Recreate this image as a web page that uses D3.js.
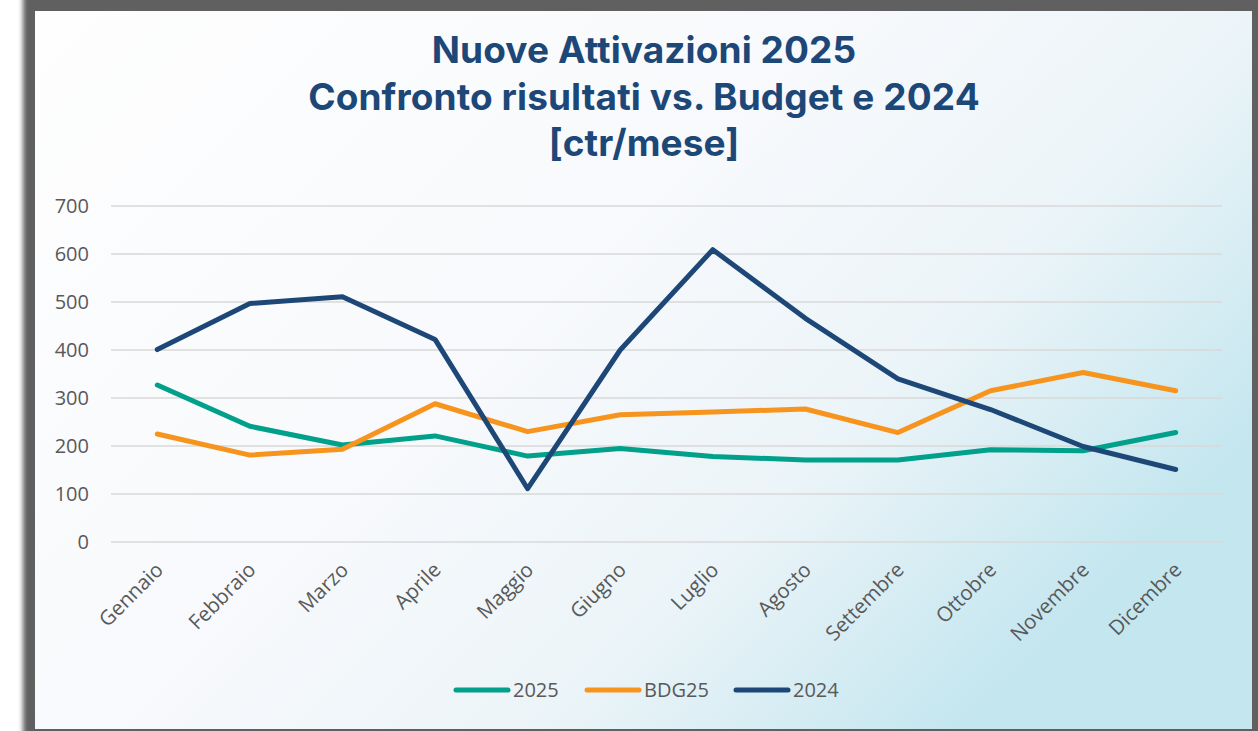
<!DOCTYPE html>
<html>
<head>
<meta charset="utf-8">
<script src="https://cdn.jsdelivr.net/npm/d3@7"></script>
<style>
  body { margin: 0; background: #fff; }
  svg { display: block; }
</style>
</head>
<body>
<svg id="chart" width="1258" height="731"></svg>
<script>
// data
var months = ['Gennaio','Febbraio','Marzo','Aprile','Maggio','Giugno','Luglio','Agosto','Settembre','Ottobre','Novembre','Dicembre'];
var act2025 = [327, 241, 202, 221, 179, 195, 178, 171, 171, 192, 190, 228];
var bdg25   = [225, 181, 193, 288, 230, 265, 271, 277, 228, 315, 353, 315];
var act2024 = [401, 497, 511, 422, 111, 400, 609, 466, 340, 276, 199, 151];
var yTicks  = [0, 100, 200, 300, 400, 500, 600, 700];
var titleLines = ['Nuove Attivazioni 2025', 'Confronto risultati vs. Budget e 2024', '[ctr/mese]'];

var series = [
  {name: '2025',  values: act2025, color: '#00a08a'},
  {name: 'BDG25', values: bdg25,   color: '#f7941d'},
  {name: '2024',  values: act2024, color: '#1d4777'}
];

var svg = d3.select('#chart');
var defs = svg.append('defs');

var blur = defs.append('filter').attr('id','shadow').attr('x','-5%').attr('y','-5%').attr('width','110%').attr('height','110%');
blur.append('feGaussianBlur').attr('stdDeviation', 2.5);

var bg = defs.append('linearGradient').attr('id','bg').attr('x1',0).attr('y1',0).attr('x2',1).attr('y2',0.6);
bg.append('stop').attr('offset','0%').attr('stop-color','#fefefe');
bg.append('stop').attr('offset','50%').attr('stop-color','#f7f9fc');
bg.append('stop').attr('offset','75%').attr('stop-color','#ebf4f8');
bg.append('stop').attr('offset','100%').attr('stop-color','#c4e6ef');

// dark frame with soft outer edge
svg.append('rect').attr('x',23).attr('y',-8).attr('width',1245).attr('height',750).attr('fill','#606060').attr('filter','url(#shadow)');
svg.append('rect').attr('x',35).attr('y',11).attr('width',1217).attr('height',718).attr('fill','url(#bg)');

// title
var title = svg.append('text').attr('text-anchor','middle')
  .attr('font-family','Inter, "Open Sans", sans-serif').attr('font-weight',700)
  .attr('font-size',37).attr('letter-spacing','0.1').attr('fill','#1d4777');
title.selectAll('tspan').data(titleLines).enter().append('tspan')
  .attr('x',644).attr('y',function(d,i){ return 63 + i*46.5; })
  .text(function(d){ return d; });

var plotL = 111, plotR = 1222, plotT = 206, plotB = 542;

var x = d3.scaleBand().domain(months).range([plotL, plotR]);
var y = d3.scaleLinear().domain([0, 700]).range([plotB, plotT]);

// grid
svg.append('g').selectAll('line').data(yTicks).enter().append('line')
  .attr('x1', plotL).attr('x2', plotR)
  .attr('y1', function(d){ return y(d); }).attr('y2', function(d){ return y(d); })
  .attr('stroke','#d9d9d9').attr('stroke-width',1.5);

// y axis
var yAxis = svg.append('g').attr('transform','translate(' + (plotL - 22) + ',0)')
  .call(d3.axisLeft(y).tickValues(yTicks).tickSize(0).tickPadding(0));
yAxis.select('.domain').remove();
yAxis.selectAll('text').attr('font-family','"Open Sans", sans-serif').attr('font-size',20).attr('fill','#595959');

// x axis
var xAxis = svg.append('g').attr('transform','translate(-3,' + (plotB + 19) + ')')
  .call(d3.axisBottom(x).tickSize(0).tickPadding(0));
xAxis.select('.domain').remove();
xAxis.selectAll('text')
  .attr('font-family','"Open Sans", sans-serif').attr('font-size',20.5).attr('fill','#595959')
  .attr('text-anchor','end').attr('dy','0.7em')
  .attr('transform','rotate(-45)');

// lines
var line = d3.line()
  .x(function(d,i){ return x(months[i]) + x.bandwidth()/2; })
  .y(function(d){ return y(d); });

svg.append('g').selectAll('path').data(series).enter().append('path')
  .attr('d', function(s){ return line(s.values); })
  .attr('fill','none').attr('stroke', function(s){ return s.color; })
  .attr('stroke-width',5).attr('stroke-linejoin','round').attr('stroke-linecap','round');

// legend
var legendX = [456, 587, 736];
var leg = svg.append('g').selectAll('g').data(series).enter().append('g')
  .attr('transform', function(s,i){ return 'translate(' + legendX[i] + ',690)'; });
leg.append('line').attr('x1',0).attr('x2',52).attr('y1',0).attr('y2',0)
  .attr('stroke', function(s){ return s.color; }).attr('stroke-width',5).attr('stroke-linecap','round');
leg.append('text').attr('x',57).attr('y',0).attr('dy','0.36em')
  .attr('font-family','"Open Sans", sans-serif').attr('font-size',20).attr('fill','#595959')
  .text(function(s){ return s.name; });
</script>
</body>
</html>
